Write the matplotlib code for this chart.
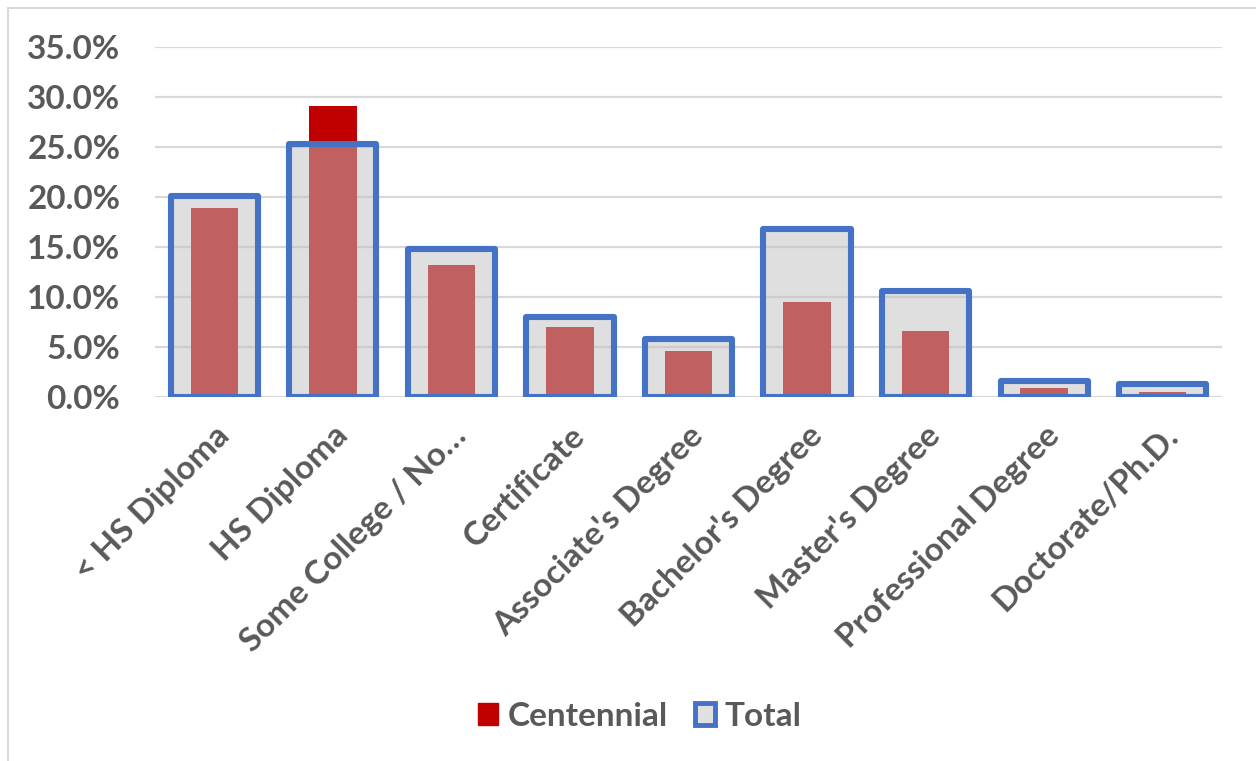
import matplotlib

matplotlib.use("Agg")
import matplotlib.pyplot as plt
from matplotlib.lines import Line2D
from matplotlib.patches import Patch
from matplotlib.ticker import PercentFormatter

categories = [
    "< HS Diploma",
    "HS Diploma",
    "Some College / No…",
    "Certificate",
    "Associate's Degree",
    "Bachelor's Degree",
    "Master's Degree",
    "Professional Degree",
    "Doctorate/Ph.D.",
]
centennial = [18.9, 29.1, 13.2, 7.0, 4.6, 9.5, 6.6, 0.9, 0.5]
total = [20.1, 25.3, 14.8, 8.0, 5.8, 16.8, 10.6, 1.6, 1.3]
y_ticks = [0, 5, 10, 15, 20, 25, 30, 35]

TEXT = "#595959"
RED = "#C00000"
BLUE = "#4472C4"
GRID = "#D9D9D9"

plt.rcParams["font.family"] = ["Lato", "DejaVu Sans"]
plt.rcParams["font.weight"] = "bold"

W, H = 1256, 761
fig = plt.figure(figsize=(W / 100, H / 100), dpi=100)
ax = fig.add_axes([155 / W, 1 - 397 / H, (1222 - 155) / W, (397 - 47) / H])

x = range(len(categories))
ax.bar(x, centennial, width=0.40, color=RED, zorder=2)
ax.bar(x, total, width=0.735, color="#C0C0C0", alpha=0.5, zorder=3)
ax.bar(x, total, width=0.735, facecolor="none", edgecolor=BLUE,
       linewidth=4.4, joinstyle="round", zorder=4)

ax.set_xlim(-0.5, len(categories) - 0.5)
ax.set_ylim(0, 35)
ax.set_yticks(y_ticks)
ax.yaxis.set_major_formatter(PercentFormatter(decimals=1))
ax.grid(axis="y", color=GRID, linewidth=1.6, zorder=0)
ax.set_axisbelow(True)
for s in ax.spines.values():
    s.set_visible(False)
ax.tick_params(axis="both", length=0, colors=TEXT, labelsize=24)
ax.tick_params(axis="y", pad=25)
ax.set_xticks(list(x))
ax.set_xticklabels(categories, rotation=45, ha="right", va="top",
                   rotation_mode="anchor", color=TEXT, fontsize=24,
                   fontweight="bold")
ax.tick_params(axis="x", pad=17)

handles = [
    Patch(facecolor=RED, edgecolor=RED, label="Centennial"),
    Patch(facecolor="#E0E0E0", edgecolor=BLUE, linewidth=3.5, label="Total"),
]
fig.legend(handles=handles, loc="center", bbox_to_anchor=(640 / W, 1 - 716 / H),
           ncol=2, frameon=False, fontsize=24, labelcolor=TEXT,
           handlelength=0.6, handleheight=0.65, handletextpad=0.3,
           columnspacing=0.8)

# thin outer chart frame (top and left edges only are visible)
fig.add_artist(Line2D([8 / W, 1], [1 - 8 / H, 1 - 8 / H], color=GRID, lw=1.5))
fig.add_artist(Line2D([8 / W, 8 / W], [0, 1 - 8 / H], color=GRID, lw=1.5))

fig.savefig("out.png", dpi=100)
